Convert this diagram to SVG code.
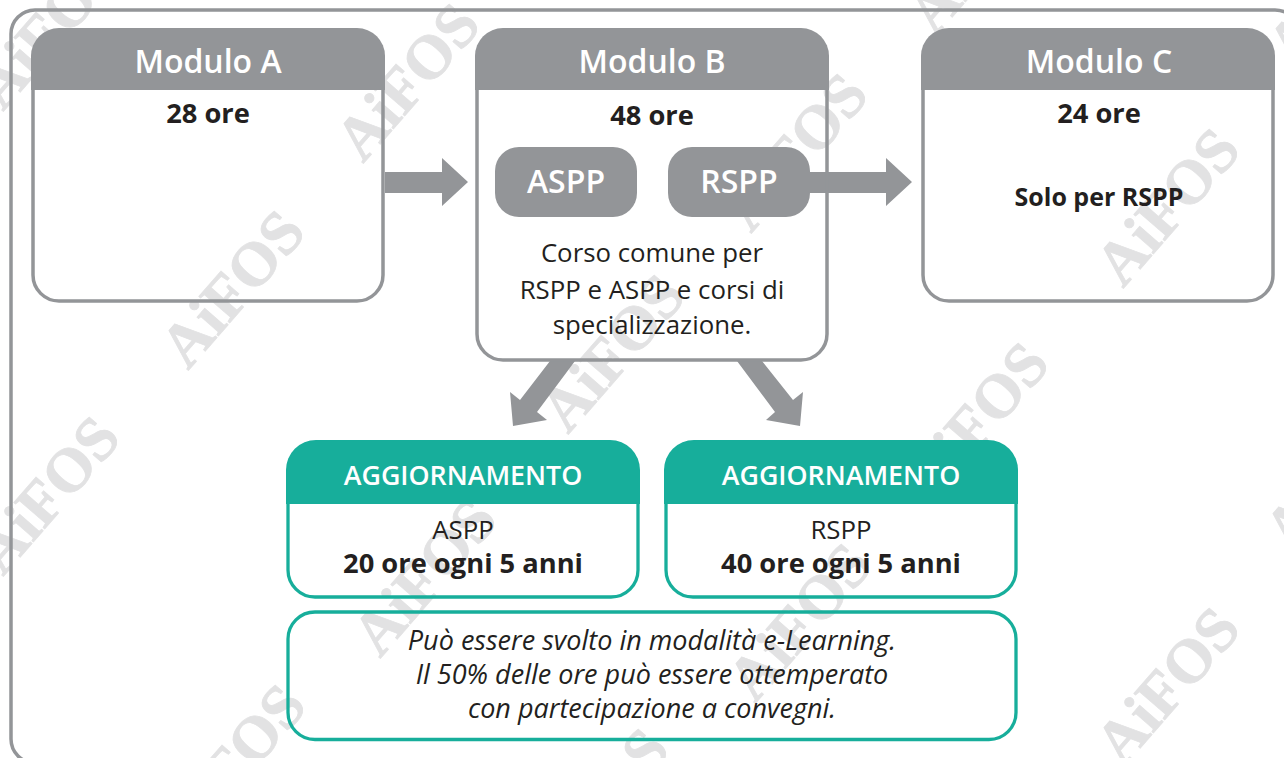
<svg xmlns="http://www.w3.org/2000/svg" width="1284" height="758" viewBox="0 0 1284 758">
<style>
.wm{font:bold 62px "Liberation Serif",serif;fill:#e2e2e3;stroke:#e2e2e3;stroke-width:.8;text-anchor:middle}
.frame{fill:none;stroke:#939598;stroke-width:3.5}
.box{fill:none;stroke:#939598;stroke-width:3.5}
.gbox{fill:none;stroke:#17ae9b;stroke-width:3.3}
.ghead{fill:#939598}
.thead{fill:#17ae9b}
text.t{font-family:"Open Sans","Noto Sans",sans-serif;text-anchor:middle;fill:#231f20;font-size:25.8px}
text.b{font-weight:700;font-size:27.3px}
text.h{font-weight:600;fill:#fff;font-size:32px}
text.h2{font-weight:600;fill:#fff;font-size:26.8px}
text.i{font-style:italic;font-size:27px}
.arr{fill:#939598}
</style>
<rect width="1284" height="758" fill="#fff"/>
<g id="watermarks">
<text class="wm" transform="translate(63,43) rotate(-49)">AiFOS</text>
<text class="wm" transform="translate(423,95) rotate(-49)">AiFOS</text>
<text class="wm" transform="translate(811,165) rotate(-49)">AiFOS</text>
<text class="wm" transform="translate(1183,220) rotate(-49)">AiFOS</text>
<text class="wm" transform="translate(995,-32) rotate(-49)">AiFOS</text>
<text class="wm" transform="translate(1355,0) rotate(-49)">AiFOS</text>
<text class="wm" transform="translate(248,302) rotate(-49)">AiFOS</text>
<text class="wm" transform="translate(628,366) rotate(-49)">AiFOS</text>
<text class="wm" transform="translate(992,434) rotate(-49)">AiFOS</text>
<text class="wm" transform="translate(1352,485) rotate(-49)">AiFOS</text>
<text class="wm" transform="translate(63,508) rotate(-49)">AiFOS</text>
<text class="wm" transform="translate(440,590) rotate(-49)">AiFOS</text>
<text class="wm" transform="translate(815,635) rotate(-49)">AiFOS</text>
<text class="wm" transform="translate(1183,699) rotate(-49)">AiFOS</text>
<text class="wm" transform="translate(249,776) rotate(-49)">AiFOS</text>
<text class="wm" transform="translate(612,820) rotate(-49)">AiFOS</text>
</g>
<rect id="frame" class="frame" x="11" y="10" width="1288" height="753" rx="24"/>
<g id="connectors">
<path class="arr" d="M385 172H442V158L468 182L442 206V193H385Z"/>
<path class="arr" d="M808 172H886V158L912 182L886 206V193H808Z"/>
<path class="arr" d="M550 361L575 361L537 412L547 420L513 426L510 392L520 400Z"/>
<path class="arr" d="M737 361L762 361L793 400L803 392L800 426L766 420L775 412Z"/>
</g>
<g id="modulo-a">
<path class="ghead" d="M31 90V56a28 28 0 0 1 28-28H357a28 28 0 0 1 28 28V90Z"/>
<path class="box" d="M33 88V275a26 26 0 0 0 26 26H357a26 26 0 0 0 26-26V88"/>
<text class="t h" x="208" y="73">Modulo A</text>
<text class="t b" x="208" y="123">28 ore</text>
</g>
<g id="modulo-b">
<path class="ghead" d="M475 90V56a28 28 0 0 1 28-28H801a28 28 0 0 1 28 28V90Z"/>
<path class="box" d="M477 88V334a26 26 0 0 0 26 26H801a26 26 0 0 0 26-26V88"/>
<text class="t h" x="652" y="73">Modulo B</text>
<text class="t b" x="652" y="125">48 ore</text>
<text class="t" x="652" y="262">Corso comune per</text>
<text class="t" x="652" y="299">RSPP e ASPP e corsi di</text>
<text class="t" x="652" y="334">specializzazione.</text>
</g>
<g id="aspp">
<rect class="ghead" x="495" y="147" width="142" height="70" rx="24"/>
<text class="t h" x="566" y="193">ASPP</text>
</g>
<g id="rspp">
<rect class="ghead" x="668" y="147" width="142" height="70" rx="24"/>
<text class="t h" x="739" y="193">RSPP</text>
</g>
<g id="modulo-c">
<path class="ghead" d="M921 90V56a28 28 0 0 1 28-28H1247a28 28 0 0 1 28 28V90Z"/>
<path class="box" d="M923 88V275a26 26 0 0 0 26 26H1247a26 26 0 0 0 26-26V88"/>
<text class="t h" x="1099" y="73">Modulo C</text>
<text class="t b" x="1099" y="123">24 ore</text>
<text class="t b" x="1099" y="206" style="font-size:25px">Solo per RSPP</text>
</g>
<g id="agg-aspp">
<path class="thead" d="M286 504V470a30 30 0 0 1 30-30H610a30 30 0 0 1 30 30V504Z"/>
<path class="gbox" d="M288 502V570a27 27 0 0 0 27 27H611a27 27 0 0 0 27-27V502"/>
<text class="t h2" x="463" y="485">AGGIORNAMENTO</text>
<text class="t" x="463" y="539">ASPP</text>
<text class="t b" x="463" y="573">20 ore ogni 5 anni</text>
</g>
<g id="agg-rspp">
<path class="thead" d="M664 504V470a30 30 0 0 1 30-30H988a30 30 0 0 1 30 30V504Z"/>
<path class="gbox" d="M666 502V570a27 27 0 0 0 27 27H989a27 27 0 0 0 27-27V502"/>
<text class="t h2" x="841" y="485">AGGIORNAMENTO</text>
<text class="t" x="841" y="539">RSPP</text>
<text class="t b" x="841" y="573">40 ore ogni 5 anni</text>
</g>
<g id="note">
<rect class="gbox" x="288" y="612" width="728" height="127.500" rx="27"/>
<text class="t i" x="652" y="650">Può essere svolto in modalità e-Learning.</text>
<text class="t i" x="652" y="684">Il 50% delle ore può essere ottemperato</text>
<text class="t i" x="652" y="718">con partecipazione a convegni.</text>
</g>
</svg>
